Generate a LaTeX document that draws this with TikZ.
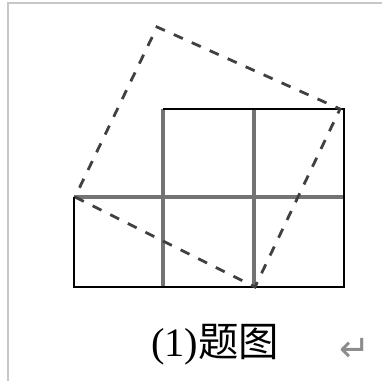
\documentclass[tikz,border=0pt]{standalone}
\usepackage{fontspec}
\setmainfont{Liberation Serif}
\newfontfamily\cjk{Noto Sans CJK SC}
\newfontfamily\symb{DejaVu Sans}
\begin{document}
\begin{tikzpicture}[x=1cm,y=1cm]
    \tikzset{
        frame/.style={draw=black!22,line width=0.6pt},
        outer/.style={draw=black,line width=0.75pt},
        inner/.style={draw=black!55,line width=0.95pt},
        dashline/.style={
            draw=black!75,
            line width=0.8pt,
            dash pattern=on 2.8pt off 2.8pt
        }
    }
    \useasboundingbox (0,0) rectangle (3.82,3.81);

    \coordinate (frameB) at (0.08,0.00);
    \coordinate (frameL) at (0.08,3.78);
    \coordinate (frameR) at (3.82,3.78);
    \draw[frame] (frameB) -- (frameL) -- (frameR);

    % lower row of three cells, upper row of two
    \coordinate (a0) at (0.74,0.94);
    \coordinate (b0) at (1.63,0.94);
    \coordinate (c0) at (2.54,0.94);
    \coordinate (d0) at (3.44,0.94);
    \coordinate (a1) at (0.74,1.84);
    \coordinate (b1) at (1.63,1.84);
    \coordinate (c1) at (2.54,1.84);
    \coordinate (d1) at (3.44,1.84);
    \coordinate (b2) at (1.63,2.72);
    \coordinate (c2) at (2.54,2.72);
    \coordinate (d2) at (3.44,2.72);

    \draw[inner] (a1) -- (d1);
    \draw[inner] (b0) -- (b2);
    \draw[inner] (c0) -- (c2);
    \draw[outer] (a1) -- (a0) -- (d0) -- (d1);
    \draw[outer] (b2) -- (d2) -- (d1);

    % tilted square
    \coordinate (sqL) at (0.75,1.84);
    \coordinate (sqB) at (2.55,0.94);
    \coordinate (sqR) at (3.40,2.72);
    \coordinate (sqT) at (1.57,3.54);
    \draw[dashline] (sqL) -- (sqB) -- (sqR) -- (sqT) -- cycle;

    \node[inner sep=0pt] (caption) at (2.15,0.36)
        {\fontsize{11.5}{13}\selectfont (1)\cjk 题图};
    \node[inner sep=0pt,text=black!45] (mark) at (3.55,0.31)
        {\fontsize{10.5}{12}\selectfont\symb ↵};
\end{tikzpicture}
\end{document}
